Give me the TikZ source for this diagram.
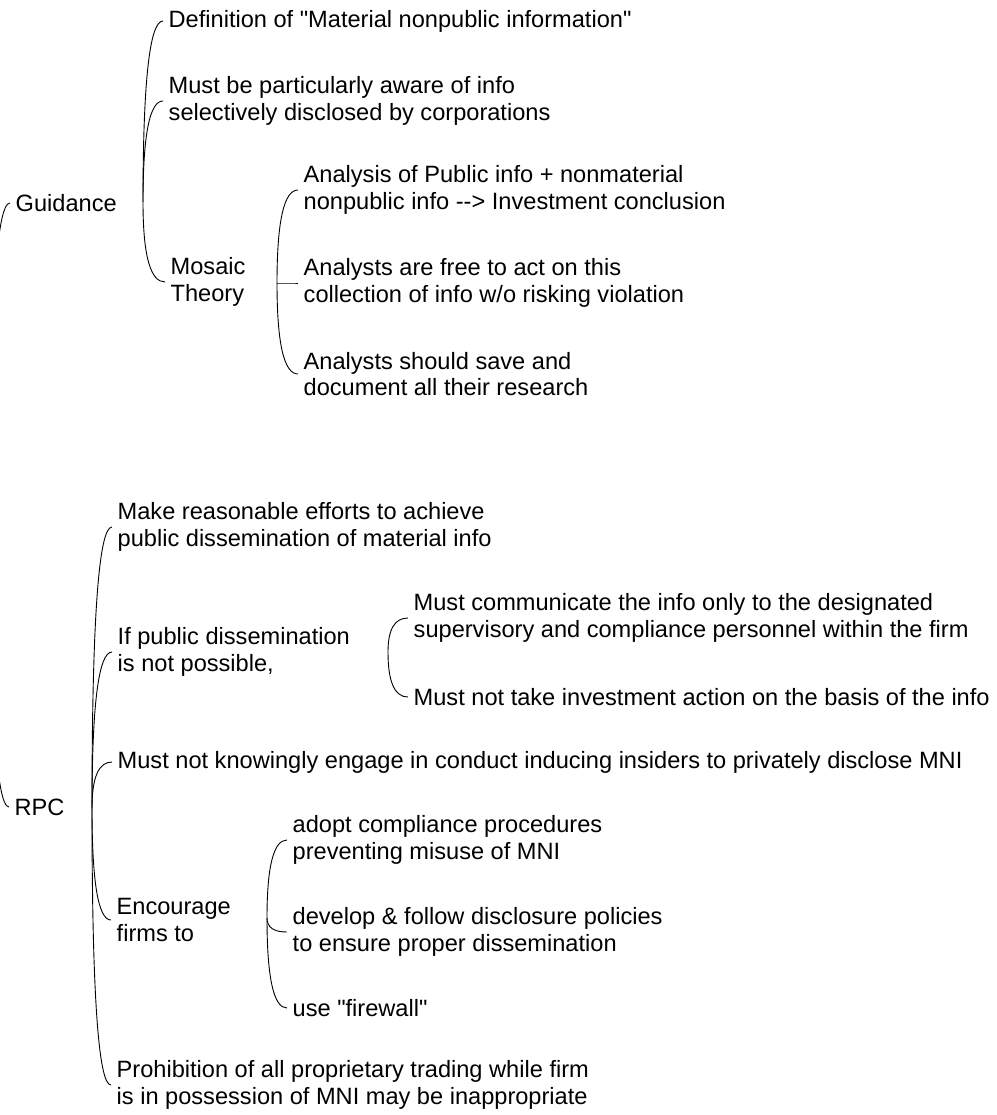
\documentclass[tikz,border=0pt]{standalone}
\usepackage{fontspec}
\setmainfont{Liberation Sans}[Ligatures=TeXOff]
\usetikzlibrary{calc}

\tikzset{
  topic/.style={anchor=west, inner xsep=5.5pt, inner ysep=0pt, align=left,
                font=\fontsize{23.6}{26.5}\selectfont},
  link/.style={draw=black, line width=0.9pt},
  % curly branch: leaves the fork vertically, arrives at the topic horizontally
  branch/.style={to path={
      .. controls ($(\tikztostart)!0.667!(\tikztostart|-\tikztotarget)$)
         and ($(\tikztotarget)!0.667!(\tikztostart|-\tikztotarget)$)
      .. (\tikztotarget)}}
}

\begin{document}
\begin{tikzpicture}[x=1pt,y=-1pt]
\useasboundingbox (0,0) rectangle (996,1115);

% central point, just off the left edge
\coordinate (root) at (-10,505);

% ---- first level ----
\node[topic] (guid) at (10,203) {Guidance};
\node[topic] (rpc)  at (9,807)  {RPC};

% ---- Guidance ----
\coordinate (gfork) at (143,202);
\node[topic] (def)    at (163,21)  {Definition of "Material nonpublic information"};
\node[topic] (aware)  at (163,101) {Must be particularly aware of info\\selectively disclosed by corporations};
\node[topic] (mosaic) at (165,282) {Mosaic\\Theory};

\coordinate (mfork) at (277,283);
\node[topic] (m1) at (298,190) {Analysis of Public info + nonmaterial\\nonpublic info --> Investment conclusion};
\node[topic] (m2) at (298,283) {Analysts are free to act on this\\collection of info w/o risking violation};
\node[topic] (m3) at (298,374) {Analysts should save and\\document all their research};

% ---- RPC ----
\coordinate (rfork) at (92,808);
\node[topic] (r1) at (112,527)  {Make reasonable efforts to achieve\\public dissemination of material info};
\node[topic] (r2) at (112,652)  {If public dissemination\\is not possible,};
\node[topic] (r3) at (112,762)  {Must not knowingly engage in conduct inducing insiders to privately disclose MNI};
\node[topic] (r4) at (111,920)  {Encourage\\firms to};
\node[topic] (r5) at (111,1085) {Prohibition of all proprietary trading while firm\\is in possession of MNI may be inappropriate};

\coordinate (pfork) at (388,652);
\node[topic] (p1) at (408,618) {Must communicate the info only to the designated\\supervisory and compliance personnel within the firm};
\node[topic] (p2) at (408,697) {Must not take investment action on the basis of the info};

\coordinate (efork) at (267,918);
\node[topic] (e1) at (287,840)  {adopt compliance procedures\\preventing misuse of MNI};
\node[topic] (e2) at (287,932)  {develop \& follow disclosure policies\\to ensure proper dissemination};
\node[topic] (e3) at (287,1008) {use "firewall"};

% ---- connectors ----
\draw[link] (root) to[branch] (guid.west);
\draw[link] (root) to[branch] (rpc.west);

\draw[link] (gfork) to[branch] (def.west);
\draw[link] (gfork) to[branch] (aware.west);
\draw[link] (gfork) to[branch] (mosaic.west);

\draw[link] (mfork) to[branch] (m1.west);
\draw[link] (mfork) to[branch] (m2.west);
\draw[link] (mfork) to[branch] (m3.west);

\draw[link] (rfork) to[branch] (r1.west);
\draw[link] (rfork) to[branch] (r2.west);
\draw[link] (rfork) to[branch] (r3.west);
\draw[link] (rfork) to[branch] (r4.west);
\draw[link] (rfork) to[branch] (r5.west);

\draw[link] (pfork) to[branch] (p1.west);
\draw[link] (pfork) to[branch] (p2.west);

\draw[link] (efork) to[branch] (e1.west);
\draw[link] (efork) to[branch] (e2.west);
\draw[link] (efork) to[branch] (e3.west);
\end{tikzpicture}
\end{document}
